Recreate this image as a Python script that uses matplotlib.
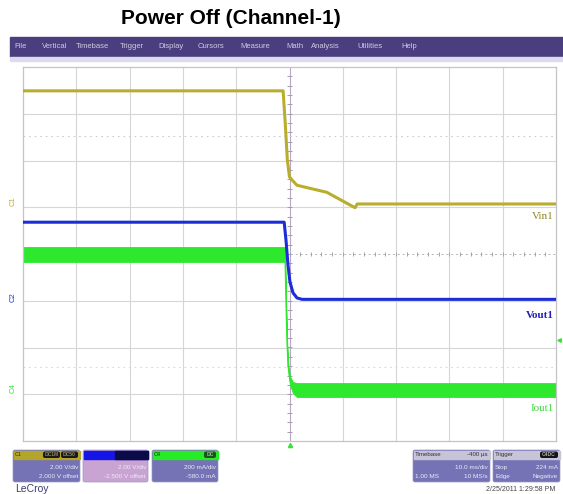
import numpy as np
import matplotlib
matplotlib.use('Agg')
import matplotlib.pyplot as plt
from matplotlib.patches import Rectangle, FancyBboxPatch

W, H = 563, 494
plt.rcParams['font.family'] = ['Liberation Sans', 'DejaVu Sans']

# ── trace data (time in ms, 10 ms/div, 0 = trigger; vertical in screen divisions) ──
vin_t   = [-50, -1.2, -0.8, -0.4, 0.0, 0.5, 1.4, 7.0, 12.3, 12.7, 50]
vin_div = [3.49, 3.49, 2.80, 2.00, 1.65, 1.58, 1.47, 1.32, 0.99, 1.07, 1.07]

vout_t   = [-50, -1.0, -0.66, -0.28, 0.09, 0.66, 1.41, 2.35, 50]
vout_div = [0.68, 0.68, 0.30, -0.24, -0.60, -0.83, -0.94, -0.97, -0.97]

iout_t  = [-50, -0.84, -0.66, -0.47, -0.28, 0.09, 0.66, 1.41, 50]
iout_hi = [0.15, 0.15, -0.93, -1.80, -2.30, -2.62, -2.74, -2.76, -2.76]
iout_lo = [-0.17, -0.17, -1.03, -1.88, -2.44, -2.80, -2.98, -3.06, -3.06]

menu_items = ['File', 'Vertical', 'Timebase', 'Trigger', 'Display', 'Cursors',
              'Measure', 'Math', 'Analysis', 'Utilities', 'Help']
menu_x = [14, 42, 76, 120, 158, 198, 240, 286, 311, 357, 401]

VIN_C, VOUT_C, IOUT_C = '#b9ad2e', '#1c2cd6', '#2ee82e'
BODY = '#7572b6'

fig = plt.figure(figsize=(W / 100, H / 100), dpi=100)
fig.patch.set_facecolor('white')

# ── UI layer in pixel coordinates ──
ui = fig.add_axes([0, 0, 1, 1], zorder=0)
ui.set_xlim(0, W)
ui.set_ylim(H, 0)
ui.axis('off')

ui.text(231, 19, 'Power Off (Channel-1)', ha='center', va='center',
        fontsize=15, fontweight='bold')

ui.add_patch(Rectangle((10, 37), 553, 20, color='#4a3e7e'))
ui.add_patch(Rectangle((10, 57), 553, 4, color='#dddbee'))
for name, x in zip(menu_items, menu_x):
    ui.text(x, 47, name, fontsize=5.5, color='#cfcbe6', va='center')

# channel ground markers on the left
ui.text(13, 201, 'C1', rotation=90, fontsize=5.5, color=VIN_C, ha='center', va='center')
ui.text(13, 297, 'C2', rotation=90, fontsize=5.5, color=VOUT_C, ha='center', va='center')
ui.text(13, 388, 'C4', rotation=90, fontsize=5.5, color=IOUT_C, ha='center', va='center')
ui.plot(289.5, 445, marker='^', ms=3, color=IOUT_C)
ui.plot(559, 340, marker='<', ms=2.5, color=IOUT_C)


def box(x0, x1, head, body, head_split=None):
    ui.add_patch(FancyBboxPatch((x0, 450), x1 - x0, 32,
                                boxstyle='round,pad=0,rounding_size=2',
                                fc=body, ec='#9a98c0', lw=0.5))
    ui.add_patch(Rectangle((x0 + 0.5, 450.5), x1 - x0 - 1, 8.5, color=head))
    if head_split:
        ui.add_patch(Rectangle((head_split[0], 450.5), x1 - head_split[0] - 0.5, 8.5,
                               color=head_split[1]))


def pill(x0, x1, label, fc='#1a1a1a', tc='#8a8a60'):
    ui.add_patch(FancyBboxPatch((x0, 451.5), x1 - x0, 6.5,
                                boxstyle='round,pad=0,rounding_size=2', fc=fc, ec='none'))
    ui.text((x0 + x1) / 2, 454.8, label, fontsize=3.6, color=tc,
            ha='center', va='center', fontweight='bold')


txt = dict(fontsize=4.6, color='#ececf8', va='center')

box(13, 80, '#b3a52b', BODY)
ui.text(15, 454.8, 'C1', fontsize=4, color='#303010', va='center')
pill(43, 60, 'DC1M')
pill(61, 78, 'DC50')
ui.text(78, 467, '2.00 V/div', ha='right', **txt)
ui.text(78, 476, '2.000 V offset', ha='right', **txt)

box(83, 148, '#1515e8', '#c9a4d2', head_split=(115, '#0b0b48'))
ui.text(146, 467, '2.00 V/div', ha='right', **txt)
ui.text(146, 476, '-2.500 V offset', ha='right', **txt)

box(152, 218, '#26ec26', BODY)
ui.text(154, 454.8, 'C4', fontsize=4, color='#103010', va='center')
pill(204, 216, 'DC', fc='#205020', tc='#90c090')
ui.text(216, 467, '200 mA/div', ha='right', **txt)
ui.text(216, 476, '-580.0 mA', ha='right', **txt)

box(413, 490, '#c6c4d6', BODY)
ui.text(415, 454.8, 'Timebase', fontsize=4.4, color='#303040', va='center')
ui.text(488, 454.8, '-400 µs', fontsize=4.4, color='#303040', va='center', ha='right')
ui.text(488, 467, '10.0 ms/div', ha='right', **txt)
ui.text(415, 476, '1.00 MS', **txt)
ui.text(488, 476, '10 MS/s', ha='right', **txt)

box(493, 560, '#c6c4d6', BODY)
ui.text(495, 454.8, 'Trigger', fontsize=4.4, color='#303040', va='center')
pill(540, 558, 'C4DC', fc='#151515', tc='#b0b0b0')
ui.text(495, 467, 'Stop', **txt)
ui.text(558, 467, '224 mA', ha='right', **txt)
ui.text(495, 476, 'Edge', **txt)
ui.text(558, 476, 'Negative', ha='right', **txt)

ui.text(15, 489, 'LeCroy', fontsize=7.5, color='#3c3c70', va='center')
ui.text(555, 489, '2/25/2011 1:29:58 PM', fontsize=5, color='#444444',
        va='center', ha='right')

# ── scope grid ──
ax = fig.add_axes([23 / W, 1 - 441 / H, 533 / W, 374 / H], zorder=1)
ax.set_xlim(-50, 50)
ax.set_ylim(-4, 4)
ax.set_xticks([])
ax.set_yticks([])
ax.set_facecolor('white')
for s in ax.spines.values():
    s.set_color('#c4c4c8')
    s.set_linewidth(0.9)

for x in range(-40, 50, 10):
    if x != 0:
        ax.axvline(x, color='#d6d6d6', lw=0.8, zorder=1)
for y in range(-3, 4):
    if y != 0:
        ax.axhline(y, color='#d6d6d6', lw=0.8, zorder=1)

ax.axvline(0, color='#b8a8c4', lw=0.8, zorder=1)
ax.hlines(np.arange(-4, 4.01, 0.2), -0.4, 0.4, color='#a898b4', lw=0.7, zorder=1)
ax.axhline(0, color='#b4b4b4', lw=0.7, ls=(0, (2, 3)), zorder=1)
ax.vlines(np.arange(-50, 50.1, 2), -0.045, 0.045, color='#a4a4a4', lw=0.7, zorder=1)
ax.axhline(2.52, color='#cccccc', lw=0.8, ls=(0, (1.5, 3.5)), zorder=1)
ax.axhline(-2.42, color='#d8d8d8', lw=0.8, ls=(0, (1.5, 3.5)), zorder=1)

# ── traces ──
ax.fill_between(iout_t, iout_lo, iout_hi, color=IOUT_C, lw=0.6, zorder=2)
ax.plot(iout_t, [(a + b) / 2 for a, b in zip(iout_hi, iout_lo)],
        color=IOUT_C, lw=1.0, zorder=2)
ax.plot(vout_t, vout_div, color=VOUT_C, lw=2.2, zorder=3)
ax.plot(vin_t, vin_div, color=VIN_C, lw=2.2, zorder=3)

ax.text(49.6, 0.81, 'Vin1', ha='right', va='center', fontsize=8,
        family='Liberation Serif', color='#8e8624')
ax.text(49.6, -1.31, 'Vout1', ha='right', va='center', fontsize=8,
        family='Liberation Serif', fontweight='bold', color='#2222b8')
ax.text(49.6, -3.31, 'Iout1', ha='right', va='center', fontsize=8,
        family='Liberation Serif', color='#3ad83a')

fig.savefig('out.png', dpi=100)
